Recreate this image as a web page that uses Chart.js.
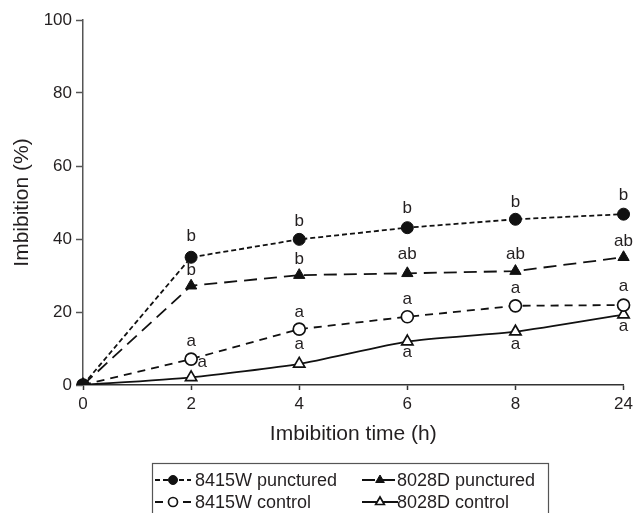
<!DOCTYPE html>
<html><head><meta charset="utf-8">
<script src="https://cdn.jsdelivr.net/npm/chart.js@4/dist/chart.umd.min.js"></script>
<style>html,body{margin:0;padding:0;background:#fff}canvas{display:block}</style>
</head><body>
<canvas id="c" width="637" height="513"></canvas>
<script>
// ---- data ----
const categories = ['0', '2', '4', '6', '8', '24'];
const yTickValues = [0, 20, 40, 60, 80, 100];
const seriesNames = ['8415W punctured', '8028D punctured', '8415W control', '8028D control'];
const punctured8415W = [0, 35.0, 39.9, 43.1, 45.4, 46.8];
const punctured8028D = [0, 27.2, 30.1, 30.6, 31.2, 35.0];
const control8415W = [0, 7.1, 15.3, 18.7, 21.7, 21.9];
const control8028D = [0, 2.1, 5.8, 11.9, 14.6, 19.3];
const letters8415WPunctured = ['', 'b', 'b', 'b', 'b', 'b'];
const letters8028DPunctured = ['', 'b', 'b', 'ab', 'ab', 'ab'];
const letters8415WControl = ['', 'a', 'a', 'a', 'a', 'a'];
const letters8028DControl = ['', 'a', 'a', 'a', 'a', 'a'];

// ---- style ----
const FONT = "'Liberation Sans', Arial, Helvetica, sans-serif";
const TXT = '#231f20';
const AX = '#555';
// label offsets [dx, dy] relative to the point pixel
const letterOffsets = [
  [null, [0,-21], [0,-18], [0,-19], [0,-17], [0,-19]],
  [null, [0,-15], [0,-15.5], [0,-18.5], [0,-17], [0,-15.5]],
  [null, [0,-17.5], [0,-16.5], [0,-17.5], [0,-17.5], [0,-18.5]],
  [null, [11,-15], [0,-20], [0,11], [0,13], [0,12]]
];
const allLetters = [letters8415WPunctured, letters8028DPunctured, letters8415WControl, letters8028DControl];

const datasets = [
  { label: seriesNames[0], data: punctured8415W, borderColor: '#111', borderWidth: 1.8, borderDash: [5, 3],
    pointStyle: 'circle', pointRadius: 6, pointBackgroundColor: '#111', pointBorderColor: '#111', pointBorderWidth: 1, tension: 0 },
  { label: seriesNames[1], data: punctured8028D, borderColor: '#111', borderWidth: 1.8, borderDash: [13, 7],
    pointStyle: 'triangle', pointRadius: 6.5, pointBackgroundColor: '#111', pointBorderColor: '#111', pointBorderWidth: 1, tension: 0 },
  { label: seriesNames[2], data: control8415W, borderColor: '#111', borderWidth: 1.8, borderDash: [8, 6],
    pointStyle: 'circle', pointRadius: 6, pointBackgroundColor: '#fff', pointBorderColor: '#111', pointBorderWidth: 1.7, tension: 0 },
  { label: seriesNames[3], data: control8028D, borderColor: '#111', borderWidth: 1.8, borderDash: [],
    pointStyle: 'triangle', pointRadius: 6.5, pointBackgroundColor: '#fff', pointBorderColor: '#111', pointBorderWidth: 1.7, tension: 0.2 }
];

const lettersPlugin = {
  id: 'letters',
  afterDatasetsDraw(chart) {
    const ctx = chart.ctx;
    ctx.save();
    ctx.font = '17px ' + FONT;
    ctx.fillStyle = TXT;
    ctx.textAlign = 'center';
    ctx.textBaseline = 'middle';
    allLetters.forEach((arr, di) => {
      const meta = chart.getDatasetMeta(di);
      arr.forEach((t, i) => {
        if (!t) return;
        const el = meta.data[i];
        const off = letterOffsets[di][i];
        ctx.fillText(t, el.x + off[0], el.y + off[1]);
      });
    });
    ctx.restore();
  }
};

const legendBox = { x: 152, y: 463, w: 396, h: 60 };
const legendItems = [
  { x: 155, y: 480, tx: 195 },
  { x: 362, y: 480, tx: 397 },
  { x: 155, y: 502, tx: 195 },
  { x: 362, y: 502, tx: 397 }
];
const legendPlugin = {
  id: 'boxLegend',
  afterDraw(chart) {
    const ctx = chart.ctx;
    ctx.save();
    ctx.strokeStyle = AX;
    ctx.lineWidth = 1.2;
    ctx.strokeRect(legendBox.x + 0.5, legendBox.y + 0.5, legendBox.w, legendBox.h);
    legendItems.forEach((it, di) => {
      const ds = chart.data.datasets[di];
      ctx.save();
      ctx.strokeStyle = ds.borderColor;
      ctx.lineWidth = ds.borderWidth;
      ctx.setLineDash(ds.borderDash || []);
      ctx.beginPath();
      ctx.moveTo(it.x, it.y);
      ctx.lineTo(it.x + 36, it.y);
      ctx.stroke();
      ctx.restore();
      ctx.save();
      ctx.fillStyle = ds.pointBackgroundColor;
      ctx.strokeStyle = ds.pointBorderColor;
      ctx.lineWidth = ds.pointBorderWidth;
      Chart.helpers.drawPoint(ctx, {
        pointStyle: ds.pointStyle, radius: ds.pointRadius - 1.5, borderWidth: ds.pointBorderWidth, rotation: 0
      }, it.x + 18, it.y);
      ctx.restore();
      ctx.fillStyle = TXT;
      ctx.font = '18px ' + FONT;
      ctx.textAlign = 'left';
      ctx.textBaseline = 'middle';
      ctx.fillText(ds.label, it.tx, it.y + 1);
    });
    ctx.restore();
  }
};

new Chart(document.getElementById('c'), {
  type: 'line',
  data: { labels: categories, datasets },
  options: {
    responsive: false,
    animation: false,
    devicePixelRatio: 1,
    layout: { padding: { left: 0, top: 20, right: 11, bottom: 66 } },
    plugins: { legend: { display: false }, tooltip: { enabled: false } },
    scales: {
      x: {
        type: 'category',
        offset: false,
        afterFit(s) { s.height = 62; },
        grid: { drawOnChartArea: false, drawTicks: true, tickLength: 5, tickColor: '#333', tickWidth: 1.5 },
        border: { display: true, color: '#333', width: 1.5 },
        ticks: { color: TXT, font: { family: FONT, size: 17 }, padding: 4, maxRotation: 0, autoSkip: false },
        title: { display: true, text: 'Imbibition time (h)', color: TXT, font: { family: FONT, size: 21 }, padding: { top: 0, bottom: 0 } }
      },
      y: {
        min: 0, max: 100,
        afterFit(s) { s.width = 83; },
        afterBuildTicks(s) { s.ticks = yTickValues.map(v => ({ value: v })); },
        grid: { drawOnChartArea: false, drawTicks: true, tickLength: 7, tickColor: AX, tickWidth: 1.5 },
        border: { display: true, color: AX, width: 1.5 },
        ticks: { color: TXT, font: { family: FONT, size: 17 }, padding: 4 },
        title: { display: true, text: 'Imbibition (%)', color: TXT, font: { family: FONT, size: 21 }, padding: { top: 10, bottom: 0 } }
      }
    }
  },
  plugins: [lettersPlugin, legendPlugin]
});
</script>
</body></html>
